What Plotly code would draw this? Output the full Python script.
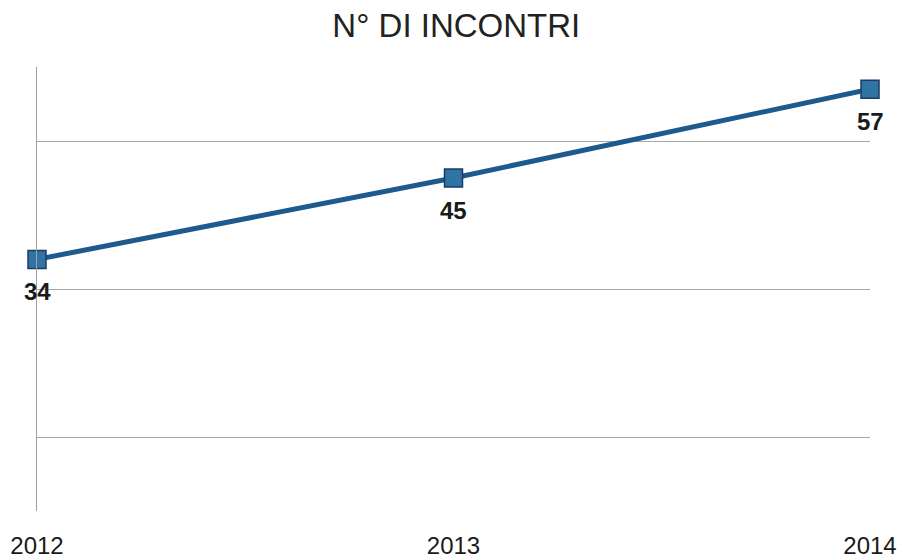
import plotly.graph_objects as go

years = [2012, 2013, 2014]
incontri = [34, 45, 57]
year_labels = ["2012", "2013", "2014"]
grid_values = [10, 30, 50, 60]

fig = go.Figure()
fig.add_trace(go.Scatter(
    x=years, y=incontri,
    mode="lines+markers",
    line=dict(color="#1d5a8e", width=5),
    marker=dict(symbol="square", size=18, color="#2f74a5",
                line=dict(color="#1a3c64", width=1.5)),
    cliponaxis=False,
    showlegend=False,
))

for xv, yv in zip(years, incontri):
    fig.add_annotation(x=xv, y=yv, text=str(yv), showarrow=False, yshift=-32,
                       font=dict(family="Liberation Sans, Arial, sans-serif", size=24,
                                 color="#1a1a1a", weight="bold"))

fig.update_layout(
    width=900, height=559,
    margin=dict(l=37, r=30, t=67, b=48, autoexpand=False),
    paper_bgcolor="white", plot_bgcolor="white",
    title=dict(text="N° DI INCONTRI", x=0.507, xanchor="center", y=0.955, yanchor="middle",
               font=dict(family="Liberation Sans Narrow, Arial Narrow, Liberation Sans, sans-serif",
                         size=33, color="#222222")),
    xaxis=dict(range=[2012, 2014], tickvals=years, ticktext=year_labels, automargin=False,
               showgrid=False, zeroline=False, showline=False, ticks="",
               ticklabelstandoff=18,
               tickfont=dict(family="Liberation Sans, Arial, sans-serif", size=24, color="#1a1a1a")),
    yaxis=dict(range=[0, 60], tickvals=grid_values, showticklabels=False, automargin=False,
               showgrid=True, gridcolor="#a8a8a8", gridwidth=1,
               zeroline=False, showline=True, linecolor="#a0a0a0", linewidth=1, ticks=""),
)

fig.write_html("out.html",
               config={"displayModeBar": False},
               post_script="document.body.style.margin='0';document.body.style.overflow='hidden';")
